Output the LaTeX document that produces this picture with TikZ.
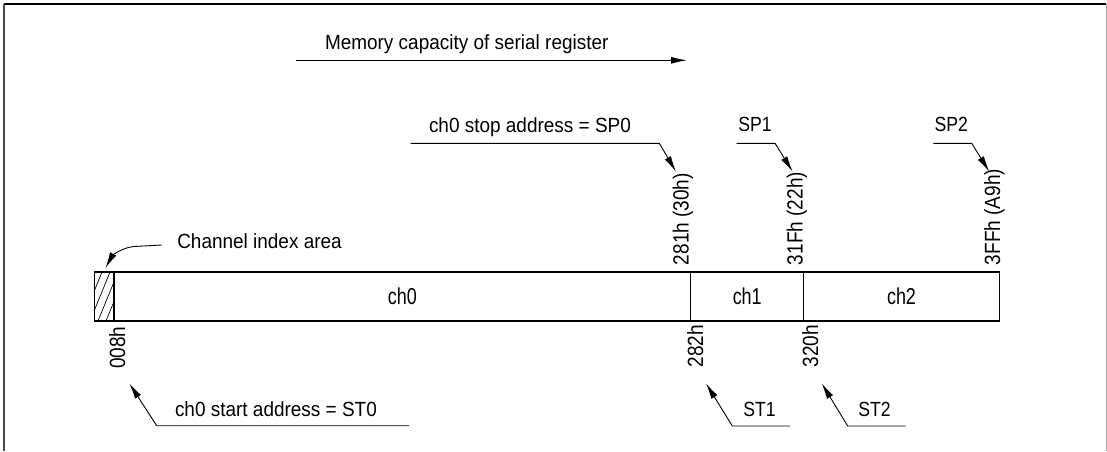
\documentclass[tikz,border=0pt]{standalone}
\usepackage{fontspec}
\usepackage{graphicx}
\setmainfont{Liberation Sans}
\usetikzlibrary{arrows.meta}
\newcommand{\hsq}[2]{\scalebox{#1}[1]{#2}}
\begin{document}
\begin{tikzpicture}[x=1pt,y=-1pt,
  lbl/.style={inner sep=0pt, outer sep=0pt, font=\fontsize{20.5}{24}\selectfont},
  addr/.style={inner sep=0pt, outer sep=0pt, rotate=90, font=\fontsize{22}{26}\selectfont},
  lead/.style={line width=0.9pt, -{Latex[length=16pt,width=7pt]}},
  cell/.style={draw, line width=1.3pt, inner sep=0pt, outer sep=0pt, minimum height=49pt, anchor=north west, font=\fontsize{23}{27}\selectfont}]
\useasboundingbox (0,0) rectangle (1107,451);
% frame
\draw[line width=2pt, black!70] (4,451) -- (4,4);
\draw[line width=1.5pt] (4,4) -- (1106,4);
\draw[line width=1pt, black!35] (1106,4) -- (1106,451);
% hatch
\begin{scope}
  \clip (94.5,272) rectangle (114,321);
  \foreach \x in {66,74,...,130} \draw[line width=0.7pt] (\x,321) -- (\x+20,272);
\end{scope}
% cells
\node[cell, minimum width=19.5pt] (idx) at (94.5,272) {};
\node[cell, minimum width=576.7pt] (ch0) at (114,272) {\hsq{0.78}{ch0}};
\node[cell, minimum width=113pt] (ch1) at (690.7,272) {\hsq{0.78}{ch1}};
\node[cell, minimum width=195.6pt] (ch2) at (803.7,272) {\hsq{0.78}{ch2}};
% top address labels
\node[addr, anchor=base west] (a281) at (688.5,265) {\hsq{0.864}{281h (30h)}};
\node[addr, anchor=base west] (a31F) at (802.5,265) {\hsq{0.864}{31Fh (22h)}};
\node[addr, anchor=base west] (a3FF) at (1000,265) {\hsq{0.864}{3FFh (A9h)}};
% bottom address labels
\node[addr, anchor=base east] (a008) at (125,326.5) {\hsq{0.864}{008h}};
\node[addr, anchor=base east] (a282) at (703,325) {\hsq{0.864}{282h}};
\node[addr, anchor=base east] (a320) at (818,325) {\hsq{0.864}{320h}};
% memory capacity
\node[lbl, anchor=base west] (mem) at (325,49.5) {\hsq{0.925}{Memory capacity of serial register}};
\coordinate (memS) at (296,60.3);
\coordinate (memE) at (687,60.3);
\draw[lead] (memS) -- (memE);
% SP0
\node[lbl, anchor=base west] (sp0) at (429,132.7) {\hsq{0.925}{ch0 stop address = SP0}};
\coordinate (sp0a) at (410.7,143.3);
\coordinate (sp0b) at (659.3,143.3);
\coordinate (sp0t) at (676,171.7);
\draw[lead] (sp0a) -- (sp0b) -- (sp0t);
% SP1
\node[lbl, anchor=base west] (sp1) at (738.3,131.7) {\hsq{0.86}{SP1}};
\coordinate (sp1a) at (736.7,143.3);
\coordinate (sp1b) at (775,143.3);
\coordinate (sp1t) at (792.7,171.7);
\draw[lead] (sp1a) -- (sp1b) -- (sp1t);
% SP2
\node[lbl, anchor=base west] (sp2) at (934.5,131.7) {\hsq{0.86}{SP2}};
\coordinate (sp2a) at (933.3,143.3);
\coordinate (sp2b) at (971.7,143.3);
\coordinate (sp2t) at (989.3,171.7);
\draw[lead] (sp2a) -- (sp2b) -- (sp2t);
% channel index area
\node[lbl, anchor=base west] (cia) at (177.3,248.5) {\hsq{0.925}{Channel index area}};
\coordinate (ciaa) at (161.7,245);
\coordinate (ciab) at (134,246.5);
\coordinate (ciat) at (105.5,268);
\draw[lead] (ciaa) -- (ciab) .. controls (122,247.5) and (112,256) .. (ciat);
% ST0
\node[lbl, anchor=base west] (st0) at (175,416) {\hsq{0.925}{ch0 start address = ST0}};
\coordinate (st0a) at (409,425.7);
\coordinate (st0b) at (156.7,425.7);
\coordinate (st0t) at (129.3,383.3);
\draw[lead] (st0a) -- (st0b) -- (st0t);
% ST1
\node[lbl, anchor=base west] (st1) at (743.3,416) {\hsq{0.86}{ST1}};
\coordinate (st1a) at (790,426);
\coordinate (st1b) at (732.3,426);
\coordinate (st1t) at (706,383.3);
\draw[lead] (st1a) -- (st1b) -- (st1t);
% ST2
\node[lbl, anchor=base west] (st2) at (858.3,416) {\hsq{0.86}{ST2}};
\coordinate (st2a) at (905.7,426);
\coordinate (st2b) at (847.7,426);
\coordinate (st2t) at (821.7,383.3);
\draw[lead] (st2a) -- (st2b) -- (st2t);
\end{tikzpicture}
\end{document}
